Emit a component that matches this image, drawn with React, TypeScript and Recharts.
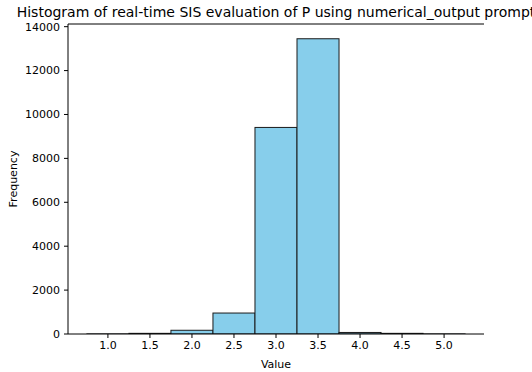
import { BarChart, Bar, XAxis, YAxis, Label } from "recharts";

// histogram bins (centre of each 0.5-wide bin) and counts
const binCenters = [1.0, 1.5, 2.0, 2.5, 3.0, 3.5, 4.0, 4.5, 5.0];
const counts = [3, 30, 170, 955, 9410, 13450, 70, 30, 3];
const xTicks = [1.0, 1.5, 2.0, 2.5, 3.0, 3.5, 4.0, 4.5, 5.0];
const yTicks = [0, 2000, 4000, 6000, 8000, 10000, 12000, 14000];

const chartData = binCenters.map((x, i) => ({ x, count: counts[i] }));

const WIDTH = 532;
const HEIGHT = 372;
const LEFT = 68;
const RIGHT = 48;
const X_MIN = 0.525;
const X_MAX = 5.475;
const BIN_WIDTH = 0.5;
// pixel width of one bin in the plot area
const barPx = ((WIDTH - LEFT - RIGHT) / (X_MAX - X_MIN)) * BIN_WIDTH;

const font = "'DejaVu Sans', sans-serif";

// bar centred on its bin, one full bin wide (histogram, no gaps)
const HistBar = (props: any) => {
  const { x, y, width, height, fill, stroke } = props;
  const cx = x + width / 2;
  return (
    <rect
      x={cx - barPx / 2}
      y={y}
      width={barPx}
      height={Math.max(height, 0)}
      fill={fill}
      stroke={stroke}
      strokeWidth={1}
    />
  );
};

export default function App() {
  return (
    <div style={{ position: "absolute", left: 0, top: 0, width: WIDTH, height: HEIGHT, background: "#fff" }}>
      <BarChart
        width={WIDTH}
        height={HEIGHT}
        data={chartData}
        margin={{ top: 0, right: RIGHT, bottom: 0, left: 0 }}
        barCategoryGap={0}
        style={{ fontFamily: font }}
      >
        <XAxis
          dataKey="x"
          type="number"
          domain={[X_MIN, X_MAX]}
          ticks={xTicks}
          tickFormatter={(v: number) => v.toFixed(1)}
          allowDataOverflow
          height={38}
          tickSize={4}
          tickMargin={3}
          stroke="#000"
          tick={{ fill: "#000", fontSize: 11 }}
          interval={0}
        >
          <Label value="Value" position="insideBottom" offset={4} fill="#000" fontSize={11} />
        </XAxis>
        <XAxis
          xAxisId="top"
          dataKey="x"
          type="number"
          orientation="top"
          domain={[X_MIN, X_MAX]}
          allowDataOverflow
          height={24}
          tick={false}
          tickLine={false}
          stroke="#000"
        >
          <Label value="Histogram of real-time SIS evaluation of P using numerical_output prompt" position="center" dy={0} fill="#000" fontSize={14} />
        </XAxis>
        <YAxis
          domain={[0, 14122]}
          ticks={yTicks}
          allowDataOverflow
          width={LEFT}
          tickSize={4}
          tickMargin={4}
          stroke="#000"
          tick={{ fill: "#000", fontSize: 11 }}
          interval={0}
        >
          <Label value="Frequency" position="center" angle={-90} dx={-21} fill="#000" fontSize={11} />
        </YAxis>
        <YAxis
          yAxisId="right"
          orientation="right"
          width={0}
          tick={false}
          tickLine={false}
          stroke="#000"
        />
        <Bar
          dataKey="count"
          fill="#87CEEB"
          stroke="#1a1a1a"
          shape={HistBar}
          isAnimationActive={false}
        />
      </BarChart>
    </div>
  );
}
